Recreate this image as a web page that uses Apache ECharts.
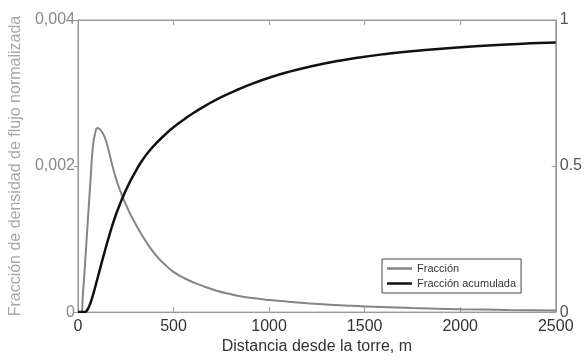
<!DOCTYPE html>
<html>
<head>
<meta charset="utf-8">
<style>
  html, body { margin: 0; padding: 0; background: #fff; }
  #chart { width: 585px; height: 360px; }
</style>
<script src="https://cdn.jsdelivr.net/npm/echarts@6/dist/echarts.min.js"></script>
</head>
<body>
<div id="chart"></div>
<script>
// Footprint of the tower: per-metre fraction and cumulative fraction vs distance
const seriesNames = ['Fracción', 'Fracción acumulada'];

// Distance (m) and normalised flux density fraction (left axis)
const fracDist = [0, 18, 25, 40, 55, 68, 78, 90, 103, 115, 130, 145, 160, 175, 192, 210, 235, 260,
  290, 329, 370, 414, 460, 500, 560, 620, 670, 730, 790, 841, 900, 1000, 1100, 1200, 1300, 1400,
  1500, 1750, 2000, 2250, 2500];
const fracVals = [0, 0, 0.0002, 0.00078, 0.00138, 0.0019, 0.00226, 0.00245, 0.00252, 0.0025,
  0.00245, 0.00236, 0.00222, 0.00206, 0.00189, 0.00174, 0.00157, 0.00142, 0.00126, 0.00108,
  0.00091, 0.00076, 0.00064, 0.00055, 0.00046, 0.00039, 0.00034, 0.00029, 0.00025, 0.00022,
  0.000195, 0.000165, 0.000143, 0.000122, 0.000104, 0.00009, 0.000078, 0.000056, 0.00004,
  0.00003, 0.000022];

// Distance (m) and cumulative fraction (right axis)
const cumDist = [0, 35, 45, 60, 75, 90, 105, 120, 140, 158, 180, 200, 220, 235, 260, 290, 329, 370,
  414, 460, 500, 560, 620, 670, 750, 841, 920, 1012, 1100, 1217, 1350, 1473, 1600, 1729, 1850,
  1985, 2100, 2241, 2370, 2500];
const cumVals = [0, 0, 0.004, 0.022, 0.05, 0.085, 0.122, 0.159, 0.207, 0.249, 0.297, 0.336, 0.37,
  0.394, 0.43, 0.468, 0.512, 0.549, 0.581, 0.61, 0.633, 0.662, 0.688, 0.708, 0.736, 0.763, 0.784,
  0.805, 0.822, 0.841, 0.859, 0.872, 0.883, 0.892, 0.899, 0.906, 0.911, 0.916, 0.92, 0.923];

// Axis tick labels
const xTickLabels = ['0', '500', '1000', '1500', '2000', '2500'];
const leftTickLabels = ['0', '0,002', '0,004'];
const rightTickLabels = ['0', '0.5', '1'];

const xName = 'Distancia desde la torre, m';
const leftName = 'Fracción de densidad de flujo normalizada';

const FONT = 'Liberation Sans, Arial, sans-serif';
const AXIS_COLOR = '#9a9a9a';

const chart = echarts.init(document.getElementById('chart'), null, { renderer: 'canvas' });

const pair = (xs, ys) => xs.map((x, i) => [x, ys[i]]);

chart.setOption({
  animation: false,
  backgroundColor: '#ffffff',
  textStyle: { fontFamily: FONT },
  grid: {
    left: 72.5, right: 25.5, top: 20, bottom: 38,
    show: true,
    borderColor: AXIS_COLOR,
    borderWidth: 1,
    backgroundColor: 'transparent'
  },
  legend: {
    data: seriesNames,
    icon: 'rect',
    orient: 'vertical',
    left: 382,
    top: 259,
    padding: [4, 5, 4, 5],
    itemGap: 4,
    itemWidth: 25,
    itemHeight: 2.5,
    backgroundColor: '#ffffff',
    borderColor: '#444',
    borderWidth: 1,
    textStyle: { fontFamily: FONT, fontSize: 11, color: '#333', lineHeight: 11 }
  },
  xAxis: [
    {
      type: 'value',
      position: 'bottom',
      min: 0,
      max: 2500,
      interval: 500,
      name: xName,
      nameLocation: 'middle',
      nameGap: 21,
      nameTextStyle: { fontFamily: FONT, fontSize: 16, color: '#333' },
      axisLine: { show: true, onZero: false, lineStyle: { color: AXIS_COLOR, width: 1 } },
      axisTick: { show: true, inside: true, length: 5, lineStyle: { color: AXIS_COLOR } },
      axisLabel: {
        margin: 6,
        fontFamily: FONT,
        fontSize: 16,
        color: '#333',
        formatter: v => xTickLabels[Math.round(v / 500)]
      },
      splitLine: { show: false }
    },
    {
      type: 'value',
      position: 'top',
      min: 0,
      max: 2500,
      interval: 500,
      axisLine: { show: true, onZero: false, lineStyle: { color: AXIS_COLOR, width: 1 } },
      axisTick: { show: true, inside: true, length: 5, lineStyle: { color: AXIS_COLOR } },
      axisLabel: { show: false },
      splitLine: { show: false }
    }
  ],
  yAxis: [
    {
      type: 'value',
      position: 'left',
      min: 0,
      max: 0.004,
      interval: 0.002,
      name: leftName,
      nameLocation: 'middle',
      nameGap: 46,
      nameTextStyle: { fontFamily: FONT, fontSize: 16, color: '#a8a8a8' },
      axisLine: { show: true, onZero: false, lineStyle: { color: AXIS_COLOR, width: 1 } },
      axisTick: { show: true, inside: false, length: 4, lineStyle: { color: AXIS_COLOR } },
      axisLabel: {
        margin: 3,
        fontFamily: FONT,
        fontSize: 16,
        color: '#8a8a8a',
        formatter: v => leftTickLabels[Math.round(v / 0.002)]
      },
      splitLine: { show: false }
    },
    {
      type: 'value',
      position: 'right',
      min: 0,
      max: 1,
      interval: 0.5,
      axisLine: { show: true, onZero: false, lineStyle: { color: AXIS_COLOR, width: 1 } },
      axisTick: { show: true, inside: true, length: 4, lineStyle: { color: AXIS_COLOR } },
      axisLabel: {
        margin: 4,
        fontFamily: FONT,
        fontSize: 16,
        color: '#555',
        formatter: v => rightTickLabels[Math.round(v / 0.5)]
      },
      splitLine: { show: false }
    }
  ],
  series: [
    {
      name: seriesNames[0],
      type: 'line',
      xAxisIndex: 0,
      yAxisIndex: 0,
      data: pair(fracDist, fracVals),
      symbol: 'none',
      smooth: 0.5,
      lineStyle: { color: '#858585', width: 2 },
      itemStyle: { color: '#858585' },
      z: 2
    },
    {
      name: seriesNames[1],
      type: 'line',
      xAxisIndex: 0,
      yAxisIndex: 1,
      data: pair(cumDist, cumVals),
      symbol: 'none',
      smooth: 0.5,
      lineStyle: { color: '#111', width: 2.5 },
      itemStyle: { color: '#111' },
      z: 3
    }
  ]
});
</script>
</body>
</html>
